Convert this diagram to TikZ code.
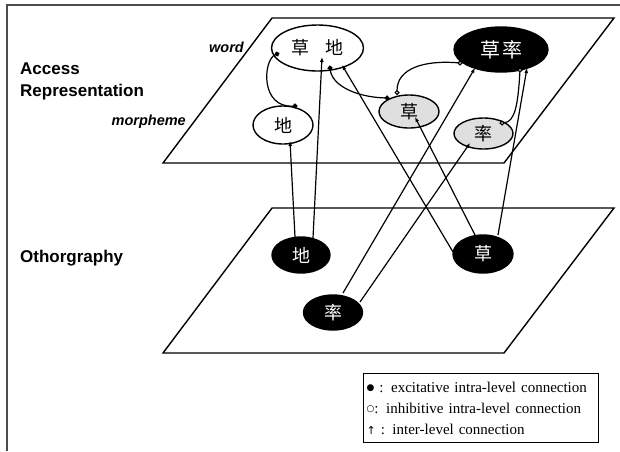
\documentclass[tikz,border=0pt]{standalone}
\usepackage{fontspec}
\setmainfont{Liberation Serif}
\setsansfont{Liberation Sans}
\newfontfamily\cjk{Noto Sans CJK SC}
\newfontfamily\symb{DejaVu Sans}
\usetikzlibrary{shapes.geometric, arrows.meta, calc}

\begin{document}
\begin{tikzpicture}[x = 1pt, y = -1pt,
		plane/.style = {line width = 1.4pt},
		unit/.style = {ellipse, draw, line width = 1.4pt, inner sep = 0pt, font = \cjk\fontsize{18}{18}\selectfont},
		light/.style = {unit, fill = white},
		shaded/.style = {unit, fill = gray!25},
		dark/.style = {unit, fill = black, text = white},
		inter/.style = {line width = 1.2pt, -{Latex[length = 5pt, width = 4pt]}},
		excite/.style = {line width = 1.2pt, {Circle[length = 5pt]}-{Circle[length = 5pt]}, shorten <= -2.5pt, shorten >= -2.5pt},
		inhibit/.style = {line width = 1.2pt, {Circle[length = 5pt, fill = white]}-{Circle[length = 5pt, fill = white]}, shorten <= -2.5pt, shorten >= -2.5pt},
		level/.style = {font = \sffamily\bfseries\fontsize{17}{22}\selectfont, align = left, inner sep = 0pt},
		sublevel/.style = {font = \sffamily\bfseries\itshape\fontsize{14.5}{14.5}\selectfont, inner sep = 0pt},
		legendbox/.style = {draw, line width = 1.2pt, align = left, inner sep = 3pt, text width = 229pt, minimum height = 69pt, font = \fontsize{15}{21}\selectfont}
	]
	\useasboundingbox (0,0) rectangle (620,451);

	\newcommand{\drawLevel}[1]
	{
		\draw [plane] (163,#1) -- (504,#1) -- (614,{#1-145}) -- (272,{#1-145}) -- cycle
	}

	% frame
	\draw [black!70, line width = 1.5pt] (7,451) -- (7,5) -- (620,5);

	% the two levels
	\drawLevel{163};
	\drawLevel{353};

	\node [level, anchor = west] (access) at (20,81) {Access\\Representation};
	\node [level, anchor = west] (ortho) at (20,258) {Othorgraphy};
	\node [sublevel, anchor = east] (wordLbl) at (244,47) {word};
	\node [sublevel, anchor = east] (morphLbl) at (186,122) {morpheme};

	% access representation
	\node [light, minimum width = 92pt, minimum height = 46pt] (wCaoDi) at (317.5,48) {草\hspace{0.9em}地};
	\node [dark, minimum width = 94pt, minimum height = 45pt, font = \cjk\fontsize{20}{20}\selectfont] (wCaoShuai) at (501,49.5) {草\hspace{0.1em}率};
	\node [light, minimum width = 60pt, minimum height = 38pt] (mDi) at (283,125) {地};
	\node [shaded, minimum width = 60pt, minimum height = 33pt] (mCao) at (409,111.5) {草};
	\node [shaded, minimum width = 59pt, minimum height = 31pt] (mShuai) at (483.5,133.5) {率};

	% orthography
	\node [dark, minimum width = 58pt, minimum height = 36pt] (oDi) at (301,255) {地};
	\node [dark, minimum width = 60pt, minimum height = 38pt] (oCao) at (483,254) {草};
	\node [dark, minimum width = 59pt, minimum height = 35pt] (oShuai) at (333,312.5) {率};

	% inter-level
	\draw [inter] ($(oDi)+(-6,-18)$) -- ($(mDi)+(7,16)$);
	\draw [inter] ($(oDi)+(12,-17)$) -- ($(wCaoDi)+(4.5,9)$);
	\draw [inter] ($(oCao)+(-30,-2)$) -- ($(wCaoDi)+(24.5,17)$);
	\draw [inter] ($(oCao)+(-8,-19)$) -- ($(mCao)+(6,5.5)$);
	\draw [inter] ($(oCao)+(15,-19)$) -- ($(wCaoShuai)+(26,18.5)$);
	\draw [inter] ($(oShuai)+(10,-19.5)$) -- ($(wCaoShuai)+(-26,18.5)$);
	\draw [inter] ($(oShuai)+(27,-10.5)$) -- ($(mShuai)+(-13.5,9.5)$);

	% intra-level
	\draw [excite] ($(wCaoDi)+(-40.5,6)$) .. controls (263,60) and (260,108) .. ($(mDi)+(12,-19)$);
	\draw [excite] ($(wCaoDi)+(12.5,20)$) .. controls (332,85) and (355,97) .. ($(mCao)+(-22,-13.5)$);
	\draw [inhibit] ($(wCaoShuai)+(-41,13.5)$) .. controls (425,60) and (397,68) .. ($(mCao)+(-12,-19)$);
	\draw [inhibit] ($(wCaoShuai)+(19,20.5)$) .. controls (518,105) and (515,122) .. ($(mShuai)+(18.5,-10.5)$);

	% legend
	\node [legendbox, anchor = north west] (legend) at (363,373)
	{
		\raisebox{1.5pt}{\symb\fontsize{9}{9}\selectfont ●} : excitative intra-level connection\\
		\raisebox{1.5pt}{\symb\fontsize{9}{9}\selectfont ○}: inhibitive intra-level connection\\
		{\symb\fontsize{11}{11}\selectfont ↑} : inter-level connection
	};
\end{tikzpicture}
\end{document}
